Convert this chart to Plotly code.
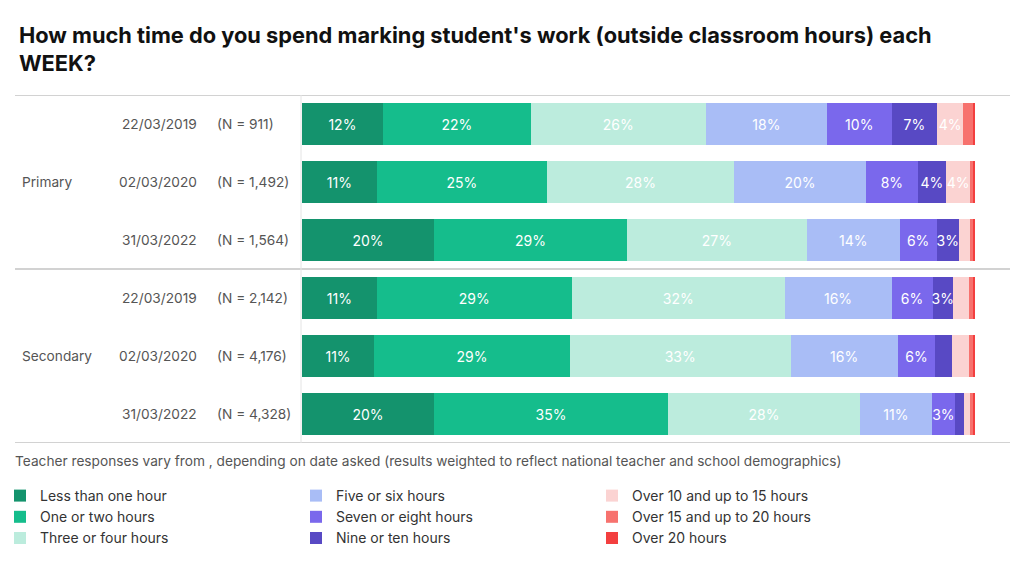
import plotly.graph_objects as go

categories = ["Less than one hour", "One or two hours", "Three or four hours",
              "Five or six hours", "Seven or eight hours", "Nine or ten hours",
              "Over 10 and up to 15 hours", "Over 15 and up to 20 hours", "Over 20 hours"]
colors = ["#14936d", "#15bd8c", "#bcecdd", "#a9bdf6", "#7a68ec", "#5849c4",
          "#fbd3d2", "#f7726e", "#f33f3f"]

groups = ["Primary", "Secondary"]
group_rows = [1, 4]
dates = ["22/03/2019", "02/03/2020", "31/03/2022", "22/03/2019", "02/03/2020", "31/03/2022"]
ns = ["(N = 911)", "(N = 1,492)", "(N = 1,564)", "(N = 2,142)", "(N = 4,176)", "(N = 4,328)"]

# values per row (percent), in category order
row_values = [
    [12.0, 22.0, 26.0, 18.0, 9.6, 6.8, 3.8, 1.5, 0.3],
    [11.1, 25.3, 27.8, 19.6, 7.7, 4.2, 3.6, 0.5, 0.2],
    [19.6, 28.7, 26.7, 13.8, 5.5, 3.3, 1.6, 0.5, 0.3],
    [11.1, 29.0, 31.6, 15.9, 6.1, 3.0, 2.4, 0.6, 0.3],
    [10.7, 29.1, 32.8, 15.9, 5.6, 2.5, 2.5, 0.6, 0.3],
    [19.6, 34.8, 28.5, 10.7, 3.4, 1.3, 1.0, 0.45, 0.25],
]
legend_rank = [1, 4, 7, 2, 5, 8, 3, 6, 9]
subtitle = ("Teacher responses vary from , depending on date asked (results weighted "
            "to reflect national teacher and school demographics)")
title_text = ("How much time do you spend marking student's work (outside classroom hours) each"
              "<br>WEEK?")

FONT = "Inter"
TXT = 13.7
rows = list(range(len(dates)))

fig = go.Figure()
for ci, cat in enumerate(categories):
    vals = [rv[ci] for rv in row_values]
    texts = [f"{round(v)}%" if v >= 2.75 else "" for v in vals]
    fig.add_trace(go.Bar(
        name=cat, y=rows, x=vals, orientation="h",
        marker=dict(color=colors[ci], line=dict(width=0)),
        text=texts, textposition="inside", insidetextanchor="middle",
        textangle=0, textfont=dict(color="white", size=14, family=FONT),
        width=0.74, legendrank=legend_rank[ci], hoverinfo="skip",
    ))

W, H = 1024, 569
L, R, T, B = 302, 49, 95, 126
pw = W - L - R
ph = H - T - B

def px(x):
    return (x - L) / pw

def py(y):
    return (H - B - y) / ph

grey = "#555555"
annotations = []
for i in rows:
    annotations.append(dict(x=px(199), y=i, xref="paper", yref="y", text=dates[i],
                            xanchor="right", showarrow=False,
                            font=dict(size=TXT, color=grey, family=FONT)))
    annotations.append(dict(x=px(215), y=i, xref="paper", yref="y", text=ns[i],
                            xanchor="left", showarrow=False,
                            font=dict(size=TXT, color=grey, family=FONT)))
for g, yi in zip(groups, group_rows):
    annotations.append(dict(x=px(20), y=yi, xref="paper", yref="y", text=g,
                            xanchor="left", showarrow=False,
                            font=dict(size=TXT, color=grey, family=FONT)))
annotations.append(dict(x=px(13), y=py(461), xref="paper", yref="paper",
                        text=subtitle, xanchor="left", yanchor="middle", showarrow=False,
                        font=dict(size=TXT, color=grey, family=FONT)))

shapes = []
for yl in [-0.5, 2.5, 5.5]:
    shapes.append(dict(type="line", xref="paper", yref="y", x0=px(15), x1=px(1010),
                       y0=yl, y1=yl, line=dict(color="#d2d2d2", width=2)))
shapes.append(dict(type="line", xref="paper", yref="y", x0=px(301), x1=px(301),
                   y0=-0.5, y1=5.5, line=dict(color="#e4e4e4", width=1)))

fig.update_layout(
    width=W, height=H,
    margin=dict(l=L, r=R, t=T, b=B, autoexpand=False),
    barmode="stack",
    paper_bgcolor="white", plot_bgcolor="white",
    font=dict(family=FONT, size=TXT, color="#333333"),
    title=dict(text=f"<b>{title_text}</b>",
               x=19 / W, xref="container", xanchor="left",
               y=1 - 43 / H, yref="container", yanchor="top",
               font=dict(size=21.8, color="#111111", family=FONT)),
    xaxis=dict(range=[0, 100], visible=False, fixedrange=True),
    yaxis=dict(range=[5.5, -0.5], visible=False, fixedrange=True),
    showlegend=True,
    legend=dict(orientation="h", x=px(0), y=py(480),
                xref="paper", yref="paper",
                xanchor="left", yanchor="top", entrywidth=251, entrywidthmode="pixels",
                font=dict(size=14, color="#333333", family=FONT),
                traceorder="normal", bgcolor="rgba(0,0,0,0)"),
    uniformtext=dict(minsize=14, mode="show"),
    annotations=annotations, shapes=shapes,
)

fig.write_html("out.html")
